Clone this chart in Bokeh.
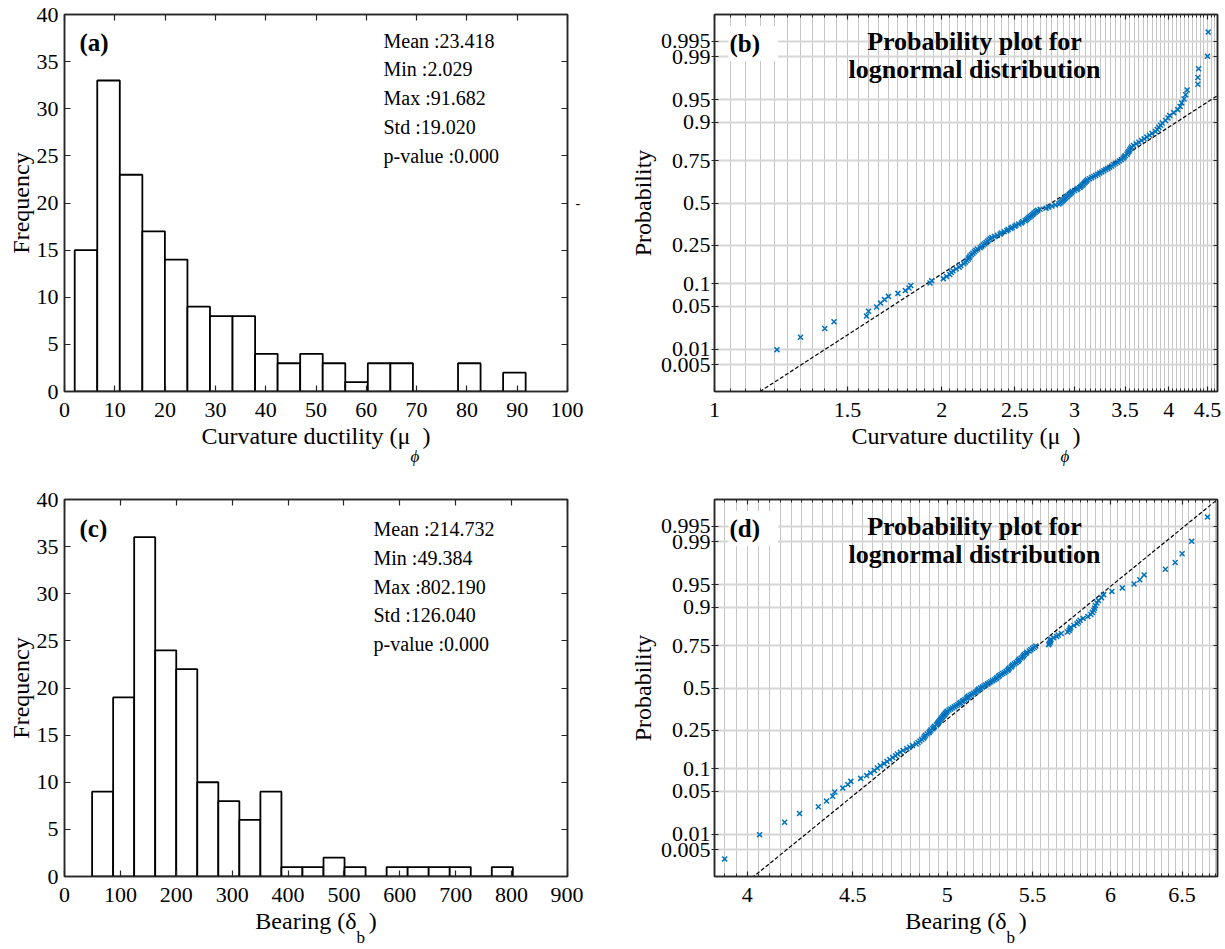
import math
from statistics import NormalDist

import numpy as np
from bokeh.embed import file_html
from bokeh.layouts import column, row
from bokeh.models import FixedTicker, Label, LinearAxis, LogAxis, Range1d, Title
from bokeh.plotting import figure
from bokeh.resources import INLINE

# ------------------------------------------------------------------ data
curv_counts = [15, 33, 23, 17, 14, 9, 8, 8, 4, 3, 4, 3, 1, 3, 3, 0, 0, 3, 0, 2]
curv_min, curv_max = 2.029, 91.682
bear_counts = [9, 19, 36, 24, 22, 10, 8, 6, 9, 1, 1, 2, 1, 0, 1, 1, 1, 1, 0, 1]
bear_min, bear_max = 49.384, 802.190

curv_stats = ["Mean :23.418", "Min :2.029", "Max :91.682", "Std :19.020", " p-value :0.000"]
bear_stats = ["Mean :214.732", "Min :49.384", "Max :802.190", "Std :126.040", " p-value :0.000"]

curv_x_ticks = [0, 10, 20, 30, 40, 50, 60, 70, 80, 90, 100]
bear_x_ticks = [0, 100, 200, 300, 400, 500, 600, 700, 800, 900]
freq_ticks = [0, 5, 10, 15, 20, 25, 30, 35, 40]

prob_levels = [0.005, 0.01, 0.05, 0.1, 0.25, 0.5, 0.75, 0.9, 0.95, 0.99, 0.995]
prob_labels = ["0.005", "0.01", "0.05", "0.1", "0.25", "0.5", "0.75", "0.9", "0.95", "0.99", "0.995"]

curv_log_ticks = [1, 1.5, 2, 2.5, 3, 3.5, 4, 4.5]
curv_log_labels = ["1", "1.5", "2", "2.5", "3", "3.5", "4", "4.5"]
bear_log_ticks = [4, 4.5, 5, 5.5, 6, 6.5]
bear_log_labels = ["4", "4.5", "5", "5.5", "6", "6.5"]
curv_log_range = [1.0, 4.64]
bear_log_range = [3.856, 6.762]

# sorted sample values shown in the probability plots (153 each)
curv_ln = [
    0.708, 1.21, 1.30, 1.40, 1.44, 1.59, 1.60, 1.64, 1.66, 1.68, 1.70, 1.75, 1.79, 1.81, 1.82,
    1.93, 1.94, 2.01, 2.03, 2.05, 2.06, 2.07, 2.09, 2.11, 2.12, 2.14, 2.15, 2.16, 2.17, 2.175,
    2.18, 2.19, 2.20, 2.21, 2.22, 2.23, 2.25, 2.26, 2.27, 2.28, 2.29, 2.30, 2.31, 2.32, 2.33,
    2.35, 2.37, 2.39,
    2.40, 2.42, 2.44, 2.45, 2.47, 2.48, 2.50, 2.51, 2.53, 2.55, 2.56, 2.58, 2.59, 2.60, 2.61,
    2.62, 2.63, 2.64, 2.65, 2.66, 2.67, 2.68, 2.70,
    2.75, 2.77, 2.80, 2.83, 2.86, 2.87, 2.88, 2.89, 2.90, 2.91, 2.92, 2.93, 2.94, 2.95, 2.96,
    2.97, 2.98,
    3.00, 3.02, 3.03, 3.05, 3.06, 3.07, 3.08, 3.09, 3.10, 3.11, 3.12, 3.14, 3.16, 3.18,
    3.20, 3.22, 3.24, 3.26, 3.28, 3.30, 3.32, 3.34, 3.36,
    3.38, 3.40, 3.42, 3.44, 3.46, 3.48, 3.49, 3.50,
    3.52, 3.53, 3.54, 3.55, 3.56, 3.57, 3.59, 3.62,
    3.65, 3.68, 3.71, 3.74, 3.77, 3.80, 3.84, 3.86, 3.88, 3.90, 3.92, 3.96, 3.99, 4.01,
    4.06, 4.11, 4.14, 4.16, 4.19, 4.21, 4.23, 4.37, 4.37, 4.38, 4.50, 4.51,
]
bear_ln = [
    3.90, 4.055, 4.17, 4.24, 4.33, 4.37, 4.40, 4.41, 4.45,
    4.475, 4.49, 4.54, 4.57, 4.59, 4.61, 4.625, 4.64, 4.66, 4.675, 4.69, 4.705, 4.72, 4.73,
    4.745, 4.76, 4.78, 4.795, 4.81,
    4.83, 4.84, 4.85, 4.86, 4.87, 4.875, 4.88, 4.89, 4.90, 4.905, 4.91, 4.92, 4.925, 4.93,
    4.94, 4.945, 4.95, 4.955, 4.96, 4.965, 4.97, 4.975, 4.98, 4.985, 4.99, 4.995, 5.00, 5.01,
    5.02, 5.03, 5.04, 5.05, 5.06, 5.07, 5.075, 5.085,
    5.09, 5.10, 5.11, 5.115, 5.12, 5.13, 5.14, 5.15, 5.16, 5.17, 5.175, 5.18, 5.19, 5.20,
    5.21, 5.22, 5.23, 5.24, 5.25, 5.26, 5.27, 5.28, 5.285, 5.295,
    5.30, 5.31, 5.32, 5.33, 5.34, 5.35, 5.355, 5.36, 5.37, 5.375, 5.38, 5.39, 5.40, 5.41,
    5.415, 5.42, 5.43, 5.44, 5.445, 5.45, 5.46, 5.465,
    5.48, 5.49, 5.50, 5.51, 5.52, 5.60, 5.605, 5.61, 5.612, 5.615,
    5.63, 5.65, 5.66, 5.68, 5.72, 5.73, 5.735, 5.74,
    5.76, 5.78, 5.79, 5.80, 5.82, 5.85,
    5.87, 5.88, 5.89, 5.895, 5.90, 5.91, 5.92, 5.94, 5.955,
    6.01, 6.08, 6.16, 6.20, 6.23, 6.38, 6.45, 6.50, 6.57, 6.687,
]
curv_fit_mu, curv_fit_sigma = 1.028, 0.2964
bear_fit_mu, bear_fit_sigma = 1.6523, 0.0863

# ------------------------------------------------------------------ style / layout
SERIF = "Liberation Serif"
INK = "#262626"
BLUE = "#0072BD"
VGRID = "#c6c6c6"
HGRID = "#d6d6d6"
FW, FH = 503, 377
COL1_W, COL2_W = 583, 640
ROW1_H, ROW2_H = 478, 470
L1, L2 = 64, 714          # canvas x of frame left edges
T1, T2 = 14, 499          # canvas y of frame top edges
ROW1_TOP, ROW2_TOP = 14, 21
ROW1_BOT, ROW2_BOT = 87, 72
ROW1_SUB, ROW2_SUB = -10, -17   # standoff of the subscript line


def lin_x(px, left, lo, hi):
    return lo + (px - left) / FW * (hi - lo)


def lin_y(py, top, lo, hi):
    return hi - (py - top) / FH * (hi - lo)


def log_x(px, left, lo, hi):
    return math.exp(math.log(lo) + (px - left) / FW * (math.log(hi) - math.log(lo)))


def base_fig(width, height, left, right, top, bottom, **kw):
    p = figure(width=width, height=height, output_backend="svg", toolbar_location=None,
               min_border_left=left, min_border_right=right,
               min_border_top=top, min_border_bottom=bottom, **kw)
    p.background_fill_color = "white"
    p.border_fill_color = "white"
    p.outline_line_color = INK
    p.outline_line_width = 1.5
    return p


def style_axis(ax, ticker, labels=None, tick_in=6, tick_out=0, minor_in=0, standoff=6):
    ax.ticker = ticker
    ax.axis_line_color = INK
    ax.axis_line_width = 1.5
    ax.major_tick_line_color = INK
    ax.major_tick_line_width = 1.2
    ax.major_tick_in = tick_in
    ax.major_tick_out = tick_out
    ax.minor_tick_line_color = INK if minor_in else None
    ax.minor_tick_line_width = 1
    ax.minor_tick_in = minor_in
    ax.minor_tick_out = 0
    ax.major_label_text_font = SERIF
    ax.major_label_text_color = "black"
    ax.major_label_standoff = standoff
    ax.major_label_text_font_size = "22px"
    if labels is not None:
        ax.major_label_overrides = labels
    ax.axis_label_text_font = SERIF
    ax.axis_label_text_font_size = "24px"
    ax.axis_label_text_font_style = "normal"
    ax.axis_label_text_color = "black"


def hide_labels(ax, ticks):
    ax.major_label_overrides = {t: "" for t in ticks}
    ax.major_label_text_font_size = "0px"
    ax.major_label_standoff = 0


def txt(p, x, y, text, size="20px", style="normal", align="left", bg=None, pad=None):
    kw = {}
    if bg is not None:
        kw["background_fill_color"] = bg
    if pad is not None:
        kw["padding"] = pad
    p.add_layout(Label(x=x, y=y, text=text, text_font=SERIF, text_font_size=size,
                       text_font_style=style, text_align=align, text_baseline="middle",
                       text_color="black", **kw))


def x_label(p, main, sub, sub_offset, sub_style, sub_standoff):
    ax = p.below[0]
    ax.axis_label = main
    ax.axis_label_standoff = 3
    p.add_layout(Title(text=sub, align="left", vertical_align="top", offset=sub_offset,
                       standoff=sub_standoff, text_font=SERIF, text_font_size="17px",
                       text_font_style=sub_style, text_color="black"), "below")


def hist_panel(counts, lo, hi, xmax, xticks, height, top, bottom, page_top,
               tag, stats, tag_px, tag_py, stat_px, stat_py):
    edges = np.linspace(lo, hi, len(counts) + 1)
    p = base_fig(COL1_W, height, L1, COL1_W - L1 - FW, top, bottom,
                 x_range=Range1d(0, xmax), y_range=Range1d(0, 40))
    p.xgrid.visible = False
    p.ygrid.visible = False
    p.quad(left=edges[:-1], right=edges[1:], bottom=0, top=counts,
           fill_color="white", line_color="black", line_width=1.8)
    style_axis(p.below[0], FixedTicker(ticks=xticks, minor_ticks=[]), standoff=11)
    style_axis(p.left[0], FixedTicker(ticks=freq_ticks, minor_ticks=[]), standoff=6)
    p.left[0].axis_label = "Frequency"
    p.left[0].axis_label_standoff = 0
    top_ax = LinearAxis()
    style_axis(top_ax, FixedTicker(ticks=xticks, minor_ticks=[]))
    hide_labels(top_ax, xticks)
    p.add_layout(top_ax, "above")

    X = lambda px: lin_x(px, L1, 0, xmax)
    Y = lambda py: lin_y(py, page_top, 0, 40)
    txt(p, X(tag_px), Y(tag_py), tag, size="25px", style="bold")
    for s, py in zip(stats, stat_py):
        txt(p, X(stat_px), Y(py), s, size="20px")
    return p


def prob_panel(xs, mu, sigma, xrng, ticks, tick_labels, height, top, bottom, page_top, tag):
    n = len(xs)
    nd = NormalDist()
    zs = [nd.inv_cdf((i - 0.5) / n) for i in range(1, n + 1)]
    lo, hi = xrng
    p = base_fig(COL2_W, height, L2 - COL1_W, COL2_W - (L2 - COL1_W) - FW, top, bottom,
                 x_axis_type="log", x_range=Range1d(lo, hi), y_range=Range1d(-3, 3))
    minor = [round(k * 0.05, 2) for k in range(math.ceil(lo / 0.05), math.floor(hi / 0.05) + 1)]
    xt = FixedTicker(ticks=ticks, minor_ticks=minor)
    zt = [nd.inv_cdf(q) for q in prob_levels]
    yt = FixedTicker(ticks=zt, minor_ticks=[])
    style_axis(p.below[0], xt, labels=dict(zip(ticks, tick_labels)),
               tick_in=5, minor_in=3, standoff=11)
    style_axis(p.left[0], yt, labels=dict(zip(zt, prob_labels)),
               tick_in=4, tick_out=3, standoff=1)
    p.left[0].axis_label = "Probability"
    p.left[0].axis_label_standoff = 2
    top_ax = LogAxis()
    style_axis(top_ax, FixedTicker(ticks=ticks, minor_ticks=minor), tick_in=5, minor_in=3)
    hide_labels(top_ax, ticks)
    p.add_layout(top_ax, "above")
    right_ax = LinearAxis()
    style_axis(right_ax, FixedTicker(ticks=zt, minor_ticks=[]), tick_in=4)
    hide_labels(right_ax, zt)
    p.add_layout(right_ax, "right")

    p.xgrid.ticker = xt
    p.xgrid.grid_line_color = VGRID
    p.xgrid.grid_line_width = 1
    p.xgrid.minor_grid_line_color = VGRID
    p.xgrid.minor_grid_line_width = 1
    p.ygrid.ticker = yt
    p.ygrid.grid_line_color = HGRID
    p.ygrid.grid_line_width = 2

    lx = [lo, hi]
    lz = [(math.log(v) - mu) / sigma for v in lx]
    p.line(lx, lz, line_color="black", line_dash="4 2", line_width=1.2)
    p.scatter(xs, zs, marker="x", size=7, line_color=BLUE, line_width=1.5)

    X = lambda px: log_x(px, L2, lo, hi)
    Y = lambda py: lin_y(py, page_top, -3, 3)
    txt(p, X(728), Y(page_top + 29), tag, size="25px", style="bold", bg="white",
        pad=dict(left=1, right=18, top=4, bottom=4))
    txt(p, X(974), Y(page_top + 27), "Probability plot for", size="26px", style="bold",
        align="center")
    txt(p, X(974), Y(page_top + 55), "lognormal distribution", size="26px", style="bold",
        align="center")
    return p


fa = hist_panel(curv_counts, curv_min, curv_max, 100, curv_x_ticks, ROW1_H, ROW1_TOP,
                ROW1_BOT, T1, "(a)", curv_stats, 79, 42, 383, [40, 68, 97, 126, 155])
# right-hand axis of (a): ticks only, plus the stray dash seen beside it
ra = LinearAxis()
style_axis(ra, FixedTicker(ticks=freq_ticks, minor_ticks=[]), standoff=8)
ra.major_label_overrides = {t: ("-" if t == 20 else "") for t in freq_ticks}
ra.major_label_text_font_size = "14px"
fa.add_layout(ra, "right")
x_label(fa, "Curvature ductility (μ\u2002)", "ϕ", 346, "italic", ROW1_SUB)

fc = hist_panel(bear_counts, bear_min, bear_max, 900, bear_x_ticks, ROW2_H, ROW2_TOP,
                ROW2_BOT, T2, "(c)", bear_stats, 79, 528, 373, [528, 557, 586, 614, 643])
rc = LinearAxis()
style_axis(rc, FixedTicker(ticks=freq_ticks, minor_ticks=[]))
hide_labels(rc, freq_ticks)
fc.add_layout(rc, "right")
x_label(fc, "Bearing (δ\u2002)", "b", 292, "normal", ROW2_SUB)

fb = prob_panel(curv_ln, curv_fit_mu, curv_fit_sigma, curv_log_range, curv_log_ticks,
                curv_log_labels, ROW1_H, ROW1_TOP, ROW1_BOT, T1, "(b)")
x_label(fb, "Curvature ductility (μ\u2002)", "ϕ", 346, "italic", ROW1_SUB)
fd = prob_panel(bear_ln, bear_fit_mu, bear_fit_sigma, bear_log_range, bear_log_ticks,
                bear_log_labels, ROW2_H, ROW2_TOP, ROW2_BOT, T2, "(d)")
x_label(fd, "Bearing (δ\u2002)", "b", 292, "normal", ROW2_SUB)

layout = column(row(fa, fb), row(fc, fd))
open("out.html", "w").write(file_html(layout, INLINE))
